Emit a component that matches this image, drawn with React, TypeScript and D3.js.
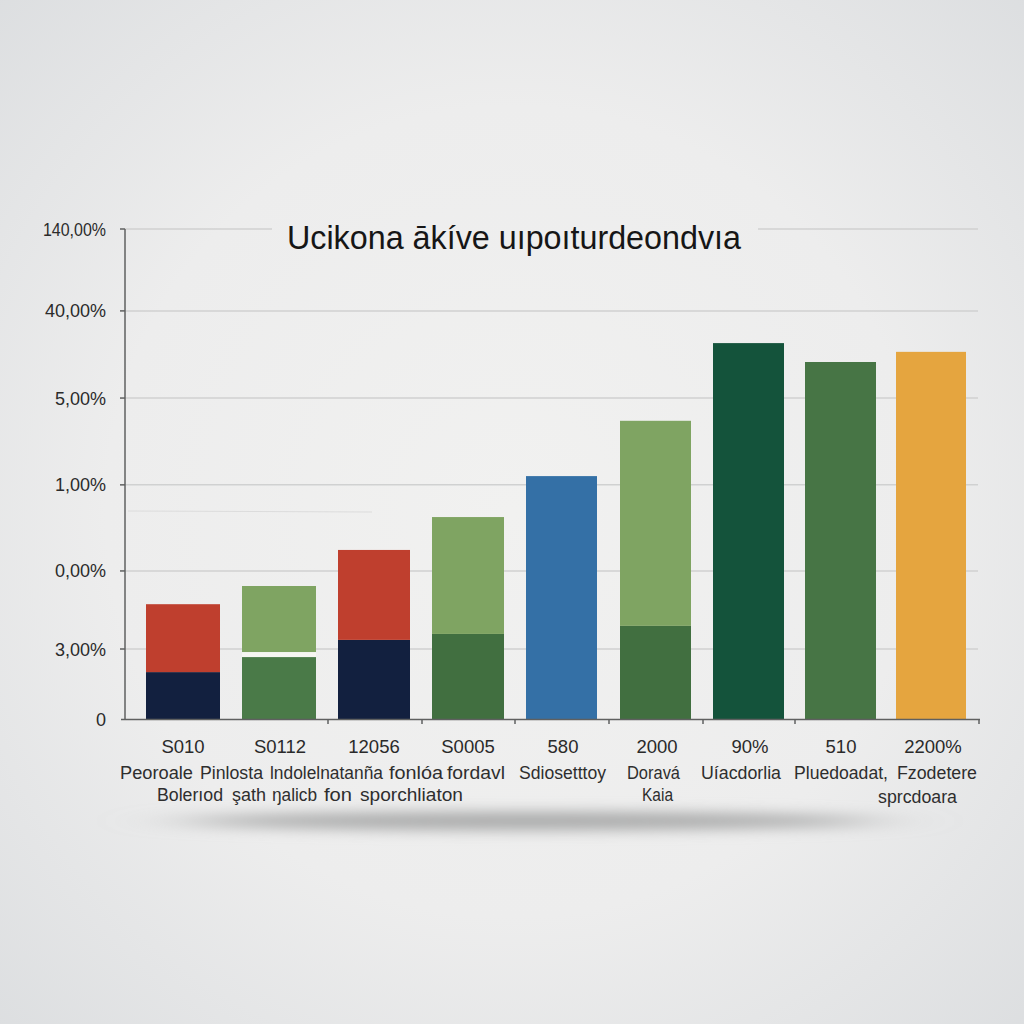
import React, { useEffect, useRef } from "react";
import * as d3 from "d3";

const W = 1024;
const H = 1024;

const titleText = "Ucikona ākíve uıpoıturdeondvıa";
const tickUnits = [0, 20, 42.3, 66.9, 91.7, 116.6, 140];
const tickLabels = ["0", "3,00%", "0,00%", "1,00%", "5,00%", "40,00%", "140,00%"];

const barKeys = ["a", "b", "c", "d", "e", "f", "g", "h", "i"];
const lowerValues = [13.4, 17.7, 22.6, 24.3, 69.4, 26.6, 107.4, 102, 104.9];
const gapValues = [0, 1.4, 0, 0, 0, 0, 0, 0, 0];
const upperValues = [19.4, 18.9, 25.7, 33.4, 0, 58.6, 0, 0, 0];
const lowerColors = ["#12203f", "#4a7a48", "#12203f", "#416f40", "#3470a6", "#416f40", "#14533b", "#477545", "#e5a53f"];
const upperColors = ["#bf3f2e", "#7fa462", "#bf3f2e", "#7fa462", "#3470a6", "#7fa462", "#14533b", "#477545", "#e5a53f"];
const barLefts = [146, 242, 338, 432, 526, 620, 713, 805, 896];
const barWidths = [74, 74, 72, 72, 71, 71, 71, 71, 70];

const numberLabels = ["S010", "S0112", "12056", "S0005", "580", "2000", "90%", "510", "2200%"];
const numberCenters = [183, 280, 374, 468, 563, 657, 750, 841, 933];
const axisTicks = [328, 422, 515, 609, 703, 795, 979];

// word, left, right, baseline
const nameWords: [string, number, number, number][] = [
  ["Peoroale", 120, 193, 779],
  ["Pinlosta", 200, 263, 779],
  ["lndolelnatanña", 270, 383, 779],
  ["fonlóa", 389, 443, 779],
  ["fordavl", 447, 505, 779],
  ["Sdiosetttoy", 519, 606, 779],
  ["Doravá", 627, 680, 779],
  ["Uíacdorlia", 701, 781, 779],
  ["Pluedoadat,", 794, 888, 779],
  ["Fzodetere", 897, 977, 779],
  ["Bolerıod", 157, 223, 801],
  ["şath", 232, 266, 801],
  ["ŋalicb", 272, 317, 801],
  ["fon", 324, 352, 801],
  ["sporchliaton", 360, 463, 801],
  ["Kaia", 642, 673, 801],
  ["sprcdoara", 878, 957, 803],
];

export default function App() {
  const ref = useRef<SVGSVGElement | null>(null);

  useEffect(() => {
    const svg = d3.select(ref.current);
    svg.selectAll("*").remove();
    const sans = "'Liberation Sans', Arial, sans-serif";

    const defs = svg.append("defs");
    const bg = defs.append("radialGradient").attr("id", "bg").attr("cx", "50%").attr("cy", "50%").attr("r", "72%");
    bg.append("stop").attr("offset", "0%").attr("stop-color", "#f1f1f0");
    bg.append("stop").attr("offset", "55%").attr("stop-color", "#ededed");
    bg.append("stop").attr("offset", "100%").attr("stop-color", "#dcdee0");
    const blur = defs.append("filter").attr("id", "blur").attr("x", "-30%").attr("y", "-400%").attr("width", "160%").attr("height", "900%");
    blur.append("feGaussianBlur").attr("stdDeviation", "40 7");

    svg.append("rect").attr("width", W).attr("height", H).attr("fill", "url(#bg)");
    svg.append("ellipse").attr("cx", 530).attr("cy", 821).attr("rx", 350).attr("ry", 9)
      .attr("fill", "#a8a9a9").attr("filter", "url(#blur)");

    const y = d3.scaleLinear().domain([0, 140]).range([719, 229]);

    const grid = svg.append("g").attr("stroke", "#d0d1d1").attr("stroke-width", 1.5);
    tickUnits.slice(1).forEach((t, i) => {
      if (i === tickUnits.length - 2) {
        grid.append("line").attr("x1", 125).attr("x2", 272).attr("y1", y(t)).attr("y2", y(t));
        grid.append("line").attr("x1", 758).attr("x2", 978).attr("y1", y(t)).attr("y2", y(t));
      } else {
        grid.append("line").attr("x1", 125).attr("x2", 978).attr("y1", y(t)).attr("y2", y(t));
      }
    });
    svg.append("line").attr("x1", 128).attr("x2", 372).attr("y1", 511).attr("y2", 512)
      .attr("stroke", "#dcdcdc").attr("stroke-width", 1.2);

    const bars = svg.append("g");
    barKeys.forEach((k, i) => {
      const x = barLefts[i];
      const w = barWidths[i];
      const low = lowerValues[i];
      const gap = gapValues[i];
      const up = upperValues[i];
      bars.append("rect").attr("data-k", k).attr("x", x).attr("width", w)
        .attr("y", y(low)).attr("height", y(0) - y(low)).attr("fill", lowerColors[i]);
      if (up > 0) {
        bars.append("rect").attr("x", x).attr("width", w)
          .attr("y", y(low + gap + up)).attr("height", y(0) - y(up)).attr("fill", upperColors[i]);
      }
      if (gap > 0) {
        bars.append("rect").attr("x", x).attr("width", w)
          .attr("y", y(low + gap)).attr("height", y(0) - y(gap)).attr("fill", "#f6f6f2");
      }
    });

    const axisColor = "#5f6060";
    const axes = svg.append("g").attr("stroke", axisColor).attr("stroke-width", 1.5);
    axes.append("line").attr("x1", 125).attr("x2", 125).attr("y1", 229).attr("y2", 719);
    axes.append("line").attr("x1", 121).attr("x2", 980).attr("y1", 719.5).attr("y2", 719.5);
    tickUnits.slice(1).forEach((t) => {
      axes.append("line").attr("x1", 120).attr("x2", 125).attr("y1", y(t)).attr("y2", y(t));
    });
    axisTicks.forEach((t) => {
      axes.append("line").attr("x1", t).attr("x2", t).attr("y1", 719).attr("y2", 724);
    });

    svg.append("g").selectAll("text").data(tickLabels).join("text")
      .attr("x", (d) => (d === "140,00%" ? 43 : 106))
      .attr("y", (_, i) => y(tickUnits[i]) + 6.5)
      .attr("text-anchor", (d) => (d === "140,00%" ? "start" : "end"))
      .attr("font-family", sans)
      .attr("font-size", 18)
      .attr("fill", "#2b2b2b")
      .each(function (d) {
        if (d === "140,00%") {
          d3.select(this).attr("textLength", 63).attr("lengthAdjust", "spacingAndGlyphs");
        }
      })
      .text((d) => d);

    svg.append("text").attr("x", 514).attr("y", 249).attr("text-anchor", "middle")
      .attr("font-family", sans).attr("font-size", 33).attr("fill", "#161616")
      .attr("textLength", 454).attr("lengthAdjust", "spacingAndGlyphs").text(titleText);

    svg.append("g").selectAll("text").data(numberLabels).join("text")
      .attr("x", (_, i) => numberCenters[i]).attr("y", 753)
      .attr("text-anchor", "middle").attr("font-family", sans).attr("font-size", 18.5)
      .attr("fill", "#2a2a2a").text((d) => d);

    svg.append("g").selectAll("text").data(nameWords).join("text")
      .attr("x", (d) => d[1]).attr("y", (d) => d[3])
      .attr("font-family", sans).attr("font-size", 17.5)
      .attr("textLength", (d) => d[2] - d[1]).attr("lengthAdjust", "spacingAndGlyphs")
      .attr("fill", "#2e2e2e").text((d) => d[0]);
  }, []);

  return <svg ref={ref} width={W} height={H} style={{ position: "absolute", left: 0, top: 0, display: "block" }} />;
}
